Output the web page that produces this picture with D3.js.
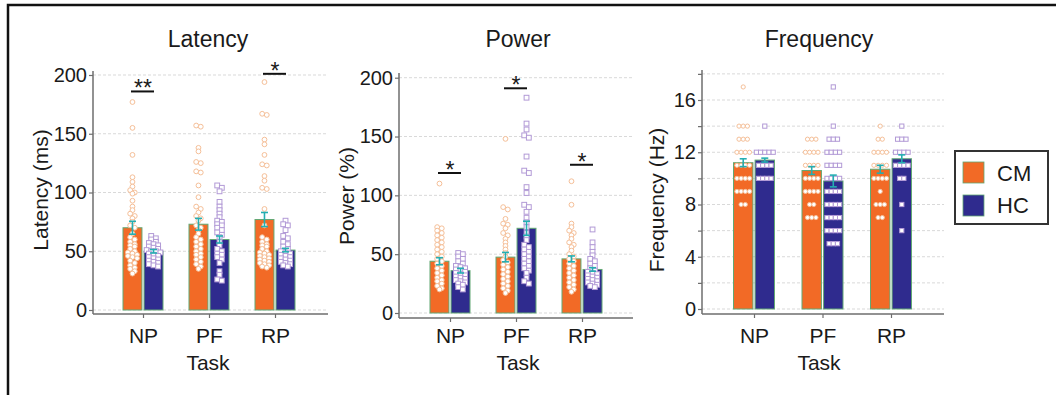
<!DOCTYPE html>
<html><head><meta charset="utf-8">
<script src="https://cdn.jsdelivr.net/npm/d3@7"></script>
<style>
body{margin:0;background:#fff}
svg{display:block}
text{font-family:"Liberation Sans",Arial,Helvetica,sans-serif;fill:#1a1a1a}
</style>
</head><body>
<svg id="c" width="1056" height="395"></svg>
<script>
// ---------- DATA ----------
const tasks = ["NP", "PF", "RP"];
const groups = ["CM", "HC"];

// Latency (ms): bar means and SEM
const latencyMeanCM = [70, 73, 77];
const latencyMeanHC = [50, 60, 51];
const latencySemCM = [5.5, 5, 6];
const latencySemHC = [1.5, 3, 1.5];
const latencyTicks = [0, 50, 100, 150, 200];
// Latency individual points
const latNP_CM = [177,155,132,113,109,105,102,100,99,93,88,85,82,80,78,75,72,70,65,62,60,58,56,55,54,52,50,49,48,47,46,45,44,42,40,38,36,35,33,31];
const latNP_HC = [63,61,60,58,57,56,55,54,53,52,51,50,50,49,48,47,46,45,44,43,42,41,40,39,38,37];
const latPF_CM = [157,156,138,135,126,125,118,117,106,96,88,86,83,80,78,76,72,70,68,65,62,60,58,56,54,52,50,48,47,45,43,41,39,37,35];
const latPF_HC = [106,104,101,92,88,85,82,79,76,75,73,72,70,68,66,64,62,58,55,52,50,48,47,45,43,40,33,30,26,25];
const latRP_CM = [194,167,166,145,141,132,124,123,114,110,104,103,86,72,62,60,58,56,55,54,52,50,49,48,47,46,45,44,43,42,41,40,39,38,37,36];
const latRP_HC = [76,73,72,68,63,61,58,56,54,52,50,49,48,47,46,45,44,43,42,41,40,39,38,37];

// Power (%)
const powerMeanCM = [44, 47.5, 46];
const powerMeanHC = [36, 72, 37];
const powerSemCM = [3, 4, 2.5];
const powerSemHC = [2, 6, 1.5];
const powerTicks = [0, 50, 100, 150, 200];
const powNP_CM = [110,73,72,70,68,66,64,62,60,58,56,54,52,50,48,46,44,42,40,38,36,34,32,30,28,27,25,23,21,20];
const powNP_HC = [51,50,48,46,44,42,40,39,38,37,36,35,34,33,32,31,30,29,28,27,26,25,24,22,20];
const powPF_CM = [148,90,88,80,76,75,72,68,66,63,60,57,54,51,48,45,43,41,39,37,35,33,31,29,27,25,23,21,19,17];
const powPF_HC = [183,161,156,151,149,133,121,119,107,102,92,90,86,81,77,73,68,65,62,58,56,54,52,50,48,46,44,42,40,38,36,34,30,27,25];
const powRP_CM = [112,92,76,73,70,68,66,63,60,58,56,53,50,48,46,44,42,40,38,36,34,32,30,28,26,24,22,20,18];
const powRP_HC = [71,60,56,52,49,46,44,42,40,38,36,35,34,33,32,31,30,29,28,27,26,25,24,23,22];

// Frequency (Hz)
const freqMeanCM = [11.2, 10.6, 10.7];
const freqMeanHC = [11.4, 9.8, 11.5];
const freqSemCM = [0.3, 0.3, 0.3];
const freqSemHC = [0.15, 0.45, 0.3];
const freqTicks = [0, 2, 4, 6, 8, 10, 12, 14, 16, 18];
const freqNP_CM = [17,14,14,14,13,13,13,12,12,12,12,11,11,11,11,10,10,10,10,9,9,9,9,8,8];
const freqNP_HC = [14,12,12,12,12,12,11,11,11,11,10,10,10,10];
const freqPF_CM = [13,13,13,12,12,12,12,11,11,11,11,10,10,10,10,9,9,9,9,8,8,7,7,7];
const freqPF_HC = [17,14,13,13,13,12,12,12,12,11,11,11,11,10,10,10,10,9,9,9,9,8,8,8,8,7,7,7,7,6,6,6,6,5,5,5];
const freqRP_CM = [14,13,13,12,12,12,12,11,11,11,11,10,10,10,10,9,8,8,8,7,7];
const freqRP_HC = [14,13,13,13,12,12,12,12,11,11,11,11,10,10,8,6];

// Significance annotations: [task, level (data units), label]
const latencySig = [["NP", 186, "**"], ["RP", 201, "*"]];
const powerSig = [["NP", 119, "*"], ["PF", 191, "*"], ["RP", 126, "*"]];
const freqSig = [];

// ---------- STYLE ----------
const colCM = "#f26a26", colHC = "#2f2b8e";
const ptCM = "#f5bf98", ptHC = "#b29ad6";
const errCol = "#25aeb2", barStroke = "#62a874";
const axisCol = "#6e6e6e", gridCol = "#d9d9d9";

const svg = d3.select("#c");

// outer frame
svg.append("rect").attr("x", 8).attr("y", 5).attr("width", 1200).attr("height", 500)
  .attr("fill", "none").attr("stroke", "#111").attr("stroke-width", 2.5);

function layoutRows(vals, y, tol, step, cx) {
  const sorted = vals.slice().sort((a, b) => b - a);
  const out = [];
  let row = [], rowY = null;
  const flush = () => {
    row.forEach((v, i) => out.push({ v, x: cx + (i - (row.length - 1) / 2) * step }));
  };
  sorted.forEach(v => {
    const py = y(v);
    if (row.length && Math.abs(py - rowY) < tol) row.push(v);
    else { flush(); row = [v]; rowY = py; }
  });
  flush();
  return out;
}

function drawPanel(cfg) {
  const g = svg.append("g");
  const y = d3.scaleLinear().domain([0, cfg.v1]).range([cfg.y0, cfg.y1]);
  const x = d3.scalePoint().domain(tasks).range([cfg.c0, cfg.c2]);
  const sub = d3.scaleBand().domain(groups).range([-cfg.half, cfg.half]).paddingInner(0.1);

  // grid
  g.append("g").selectAll("line").data(cfg.grid).join("line")
    .attr("x1", cfg.left).attr("x2", cfg.right)
    .attr("y1", d => y(d)).attr("y2", d => y(d))
    .attr("stroke", gridCol).attr("stroke-width", 1).attr("stroke-dasharray", "3,2");

  // bars
  const barData = [];
  groups.forEach(gr => tasks.forEach((t, i) => barData.push({ gr, t, m: cfg.mean[gr][i], s: cfg.sem[gr][i], pts: cfg.pts[gr][i] })));
  g.append("g").selectAll("rect").data(barData).join("rect")
    .attr("x", d => x(d.t) + sub(d.gr))
    .attr("width", sub.bandwidth())
    .attr("y", d => y(d.m))
    .attr("height", d => y(0) - y(d.m))
    .attr("fill", d => d.gr === "CM" ? colCM : colHC)
    .attr("stroke", barStroke).attr("stroke-width", 1);

  // points
  barData.forEach(d => {
    const cx = x(d.t) + sub(d.gr) + sub.bandwidth() / 2;
    const pts = layoutRows(d.pts, y, cfg.tol, cfg.step, cx);
    const pg = g.append("g");
    if (d.gr === "CM") {
      pg.selectAll("circle").data(pts).join("circle")
        .attr("cx", p => p.x).attr("cy", p => y(p.v)).attr("r", cfg.r)
        .attr("fill", "#fff").attr("stroke", ptCM).attr("stroke-width", 1);
    } else {
      const s = cfg.r * 2;
      pg.selectAll("rect").data(pts).join("rect")
        .attr("x", p => p.x - s / 2).attr("y", p => y(p.v) - s / 2)
        .attr("width", s).attr("height", s)
        .attr("fill", "#fff").attr("stroke", ptHC).attr("stroke-width", 1);
    }
  });

  // error bars
  barData.forEach(d => {
    const cx = x(d.t) + sub(d.gr) + sub.bandwidth() / 2;
    const eg = g.append("g").attr("stroke", errCol).attr("stroke-width", 1.6);
    eg.append("line").attr("x1", cx).attr("x2", cx).attr("y1", y(d.m - d.s)).attr("y2", y(d.m + d.s));
    [d.m - d.s, d.m + d.s].forEach(v => eg.append("line").attr("x1", cx - 3.5).attr("x2", cx + 3.5).attr("y1", y(v)).attr("y2", y(v)));
  });

  // axes
  const ya = d3.axisLeft(y).tickValues(cfg.ticks).tickSize(4).tickSizeOuter(0)
    .tickFormat(v => cfg.labelEvery ? (v % cfg.labelEvery === 0 ? v : "") : v);
  const yg = g.append("g").attr("transform", `translate(${cfg.left},0)`).call(ya);
  yg.select(".domain").remove();
  yg.selectAll(".tick line").attr("stroke", axisCol).attr("stroke-width", 1.2);
  yg.selectAll(".tick text").attr("x", -6).attr("font-size", 20).attr("fill", "#1a1a1a")
    .style("font-family", '"Liberation Sans",Arial,sans-serif');

  const xa = d3.axisBottom(x).tickSize(4).tickSizeOuter(0);
  const xg = g.append("g").attr("transform", `translate(0,${cfg.axisY})`).call(xa);
  xg.select(".domain").remove();
  xg.selectAll(".tick line").attr("stroke", axisCol).attr("stroke-width", 1.2);
  xg.selectAll(".tick text").attr("y", 343 - cfg.axisY).attr("dy", 0).attr("font-size", 21)
    .attr("fill", "#1a1a1a").style("font-family", '"Liberation Sans",Arial,sans-serif');

  g.append("line").attr("x1", cfg.left).attr("x2", cfg.left).attr("y1", cfg.top).attr("y2", cfg.axisY)
    .attr("stroke", axisCol).attr("stroke-width", 1.5);
  g.append("line").attr("x1", cfg.left).attr("x2", cfg.right).attr("y1", cfg.axisY).attr("y2", cfg.axisY)
    .attr("stroke", axisCol).attr("stroke-width", 1.5);

  // significance
  cfg.sig.forEach(([t, lvl, lab]) => {
    const cx = x(t);
    const ly = y(lvl);
    g.append("line").attr("x1", cx - 12).attr("x2", cx + 11).attr("y1", ly).attr("y2", ly)
      .attr("stroke", "#111").attr("stroke-width", 2);
    g.append("text").attr("x", cx).attr("y", ly + 5).attr("text-anchor", "middle")
      .attr("font-size", 23).text(lab);
  });

  // titles
  g.append("text").attr("x", cfg.titleX).attr("y", 47).attr("text-anchor", "middle")
    .attr("font-size", 23).text(cfg.title);
  g.append("text").attr("x", cfg.titleX).attr("y", 370).attr("text-anchor", "middle")
    .attr("font-size", 21).text("Task");
  g.append("text").attr("transform", `translate(${cfg.ylabX},${cfg.ylabY}) rotate(-90)`)
    .attr("text-anchor", "middle").attr("font-size", 21).text(cfg.ylab);
}

drawPanel({
  title: "Latency", ylab: "Latency (ms)", titleX: 208, ylabX: 48, ylabY: 190,
  left: 93, right: 328, top: 71, axisY: 314, y0: 310, y1: 75, v1: 200,
  c0: 143, c2: 275, half: 20, r: 2.4, step: 4.6, tol: 3.5,
  ticks: latencyTicks, grid: latencyTicks,
  mean: { CM: latencyMeanCM, HC: latencyMeanHC }, sem: { CM: latencySemCM, HC: latencySemHC },
  pts: { CM: [latNP_CM, latPF_CM, latRP_CM], HC: [latNP_HC, latPF_HC, latRP_HC] },
  sig: latencySig
});
drawPanel({
  title: "Power", ylab: "Power (%)", titleX: 518, ylabX: 354, ylabY: 196,
  left: 399, right: 633, top: 73, axisY: 318, y0: 313, y1: 77.7, v1: 200,
  c0: 450, c2: 582, half: 20, r: 2.4, step: 4.6, tol: 3.5,
  ticks: powerTicks, grid: powerTicks,
  mean: { CM: powerMeanCM, HC: powerMeanHC }, sem: { CM: powerSemCM, HC: powerSemHC },
  pts: { CM: [powNP_CM, powPF_CM, powRP_CM], HC: [powNP_HC, powPF_HC, powRP_HC] },
  sig: powerSig
});
drawPanel({
  title: "Frequency", ylab: "Frequency (Hz)", titleX: 819, ylabX: 664, ylabY: 200,
  left: 702, right: 944, top: 70, axisY: 314, y0: 309, y1: 100, v1: 16,
  c0: 754, c2: 891, half: 20.5, r: 2.1, step: 4.2, tol: 3,
  ticks: freqTicks, grid: freqTicks, labelEvery: 4,
  mean: { CM: freqMeanCM, HC: freqMeanHC }, sem: { CM: freqSemCM, HC: freqSemHC },
  pts: { CM: [freqNP_CM, freqPF_CM, freqRP_CM], HC: [freqNP_HC, freqPF_HC, freqRP_HC] },
  sig: freqSig
});

// legend
const lg = svg.append("g");
lg.append("rect").attr("x", 955).attr("y", 151).attr("width", 93).attr("height", 73)
  .attr("fill", "#fff").attr("stroke", "#333").attr("stroke-width", 2);
groups.forEach((gr, i) => {
  lg.append("rect").attr("x", 963).attr("y", 162 + i * 33).attr("width", 21).attr("height", 21)
    .attr("fill", gr === "CM" ? colCM : colHC).attr("stroke", barStroke).attr("stroke-width", 0.8);
  lg.append("text").attr("x", 997).attr("y", 181 + i * 32).attr("font-size", 22).text(gr);
});
</script>
</body></html>
